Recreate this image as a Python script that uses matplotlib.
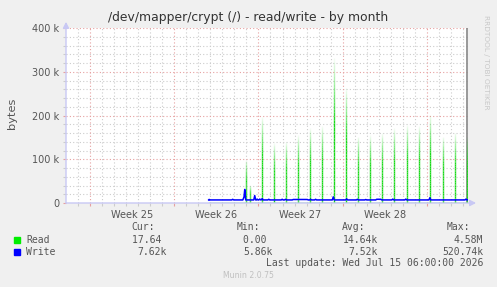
import matplotlib
matplotlib.use("Agg")
import matplotlib.pyplot as plt
import numpy as np
from matplotlib.collections import LineCollection

# x in days, 0 = Monday of week 25
week_starts = [0, 7, 14, 21, 28]
week_labels = ["Week 25", "Week 26", "Week 27", "Week 28"]
xlim = (-2.0, 31.42)

# write (blue), values in k
write_t = [9.86, 9.90, 9.94, 9.98, 11.78, 11.86, 11.94, 12.70, 12.80, 12.86, 12.94,
           13.61, 13.69, 13.77, 13.85, 13.89, 13.97, 14.03, 14.11, 14.19, 14.23,
           14.31, 14.39, 14.78, 14.86, 14.94, 15.89, 15.97, 16.05, 16.17, 16.25,
           16.33, 16.81, 16.89, 18.06, 18.14, 18.25, 18.33, 18.41, 18.67, 18.75,
           18.83, 20.14, 20.22, 20.30, 21.25, 21.33, 21.41, 22.14, 22.22, 22.30,
           22.84, 22.92, 23.00, 23.75, 23.83, 24.17, 24.25, 25.09, 25.17, 25.25,
           26.17, 26.25, 26.33, 28.17, 28.25, 28.33, 31.17, 31.25, 31.33, 31.42]
write_v = [7.0, 8.2, 7.0, 7.0, 7.0, 8.4, 7.0, 7.0, 14.0, 31.0, 7.0,
           7.0, 17.0, 7.0, 7.0, 9.0, 7.0, 7.0, 9.0, 7.0, 7.0,
           10.0, 7.0, 7.0, 8.5, 7.0, 7.0, 8.5, 7.0, 7.0, 8.5,
           7.0, 7.0, 8.0, 8.0, 7.0, 7.0, 8.5, 7.0, 7.0, 8.5,
           7.0, 7.0, 14.0, 7.0, 7.0, 9.5, 7.0, 7.0, 8.5, 7.0,
           7.0, 8.0, 7.0, 7.0, 8.5, 8.5, 7.0, 7.0, 9.0, 7.0,
           7.0, 9.0, 7.0, 7.0, 12.0, 7.0, 7.0, 9.0, 7.0, 7.5]

# read (green) baseline and daily spikes, values in k (visible height)
read_t = [9.86, 31.42]
read_v = [0.0, 0.0]
spike_t = [12.97, 13.31, 14.28, 15.28, 16.31, 17.28, 18.28, 19.28, 20.31, 21.29,
           22.28, 23.31, 24.31, 25.29, 26.31, 27.31, 28.29, 29.31, 30.31, 31.31]
spike_v = [98, 41, 197, 137, 140, 155, 171, 176, 331, 263,
           152, 155, 160, 171, 178, 176, 201, 152, 161, 150]

legend_rows = ["Read", "Write"]
legend_colors = ["#00ee00", "#0000ff"]
cur = ["17.64 ", "7.62k"]
vmin = ["0.00 ", "5.86k"]
avg = ["14.64k", "7.52k"]
vmax = ["4.58M", "520.74k"]

W, H = 497, 287
fig = plt.figure(figsize=(W / 100, H / 100), dpi=100, facecolor="#f0f0f0")
L, R, T, B = 66, 468, 28, 203
ax = fig.add_axes([L / W, 1 - B / H, (R - L) / W, (B - T) / H])
ax.set_facecolor("white")
ax.set_xlim(*xlim)
ax.set_ylim(0, 400)
for s in ax.spines.values():
    s.set_visible(False)

grid_minor = "#cccccc"
grid_major = "#e6a0a0"
dot = (0, (1, 2))
for d in range(-1, 32):
    if d not in week_starts:
        ax.axvline(d, color=grid_minor, lw=0.8, ls=dot, zorder=1)
for yv in range(20, 400, 20):
    if yv % 100:
        ax.axhline(yv, color=grid_minor, lw=0.8, ls=dot, zorder=1)
for d in week_starts:
    ax.axvline(d, color=grid_major, lw=0.8, ls=dot, zorder=1)
for yv in range(100, 401, 100):
    ax.axhline(yv, color=grid_major, lw=0.8, ls=dot, zorder=1)

# fading read spikes
segs, cols = [], []
for t, v in zip(spike_t, spike_v):
    n = 40
    ys = np.linspace(0, v, n + 1)
    for i in range(n):
        f = i / n
        a = min(1.0, 2.2 * (1 - f))
        segs.append([(t, ys[i]), (t, ys[i + 1])])
        cols.append((0.1, 0.85, 0.1, a))
ax.add_collection(LineCollection(segs, colors=cols, linewidths=1.0, zorder=3))
ax.plot(read_t, read_v, color="#00cc00", lw=1.0, zorder=3)
ax.plot(write_t, write_v, color="#0000ff", lw=1.1, zorder=4)

# right marker line
ax.axvline(31.33, color="#888888", lw=1.2, zorder=2)

# axes lines with arrows
axis_col = "#c8c8f4"
arrow = dict(arrowstyle="-|>,head_length=0.35,head_width=0.18",
             color=axis_col, lw=1.0, shrinkA=0, shrinkB=0)
ax.annotate("", xy=(0, 1.035), xytext=(0, 0), xycoords="axes fraction",
            arrowprops=arrow, annotation_clip=False, zorder=5)
ax.annotate("", xy=(1.02, 0), xytext=(0, 0), xycoords="axes fraction",
            arrowprops=arrow, annotation_clip=False, zorder=5)

# ticks
ax.set_yticks(range(0, 401, 100))
ax.set_yticklabels(["0", "100 k", "200 k", "300 k", "400 k"])
ax.set_yticks(range(0, 401, 20), minor=True)
ax.set_xticks(week_starts)
ax.set_xticklabels([])
ax.set_xticks(range(-1, 32), minor=True)
ax.tick_params(which="major", length=2, width=0.8, color=grid_major,
               labelsize=7, labelcolor="#555555", pad=3)
ax.tick_params(which="minor", length=2, width=0.8, color=grid_minor)
for i, lab in enumerate(week_labels):
    ax.annotate(lab, xy=(week_starts[i] + 3.5, 0), xytext=(0, -5),
                textcoords="offset points", ha="center", va="top",
                fontsize=7, color="#555555", annotation_clip=False)

fig.text(248 / W, 1 - 18 / H, "/dev/mapper/crypt (/) - read/write - by month",
         ha="center", va="center", fontsize=8.9, color="#333333")
fig.text(12 / W, 1 - 113 / H, "bytes", rotation=90, ha="center", va="center",
         fontsize=8.2, color="#555555")
fig.text(486 / W, 1 - 15 / H, "RRDTOOL / TOBI OETIKER", rotation=270,
         ha="center", va="top", fontsize=5.3, color="#c8c8c8")

mono = "DejaVu Sans Mono"
fs = 7.0
tc = "#555555"
def px(x, y):
    return x / W, 1 - y / H

for x, lab in [(131.7, "Cur:"), (236.7, "Min:"), (342, "Avg:"), (446.7, "Max:")]:
    fig.text(*px(x, 227.3), lab, family=mono, fontsize=fs, color=tc,
             ha="left", va="center")
for r, (name, c) in enumerate(zip(legend_rows, legend_colors)):
    y = 239.7 + 12 * r
    fig.patches.append(plt.Rectangle(px(14, y + 3), 6 / W, 6 / H, color=c,
                                     transform=fig.transFigure, figure=fig))
    fig.text(*px(26, y), name, family=mono, fontsize=fs, color=tc,
             ha="left", va="center")
    for x, vals in [(167, cur), (272.7, vmin), (378, avg), (483, vmax)]:
        fig.text(*px(x, y), vals[r], family=mono, fontsize=fs, color=tc,
                 ha="right", va="center")
fig.text(*px(483, 263.3), "Last update: Wed Jul 15 06:00:00 2026",
         family=mono, fontsize=fs, color=tc, ha="right", va="center")
fig.text(*px(248, 276), "Munin 2.0.75", fontsize=5.6, color="#c0c0c0",
         ha="center", va="center")

fig.savefig("out.png", dpi=100, facecolor=fig.get_facecolor())
